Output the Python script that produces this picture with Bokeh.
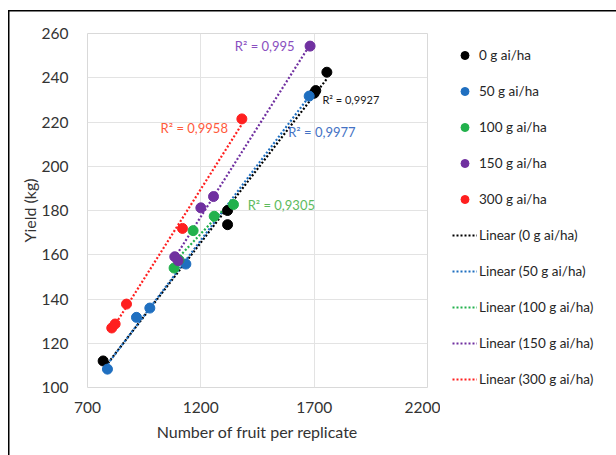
import numpy as np
from bokeh.plotting import figure
from bokeh.layouts import row
from bokeh.models import Range1d, Legend, LegendItem, FixedTicker
from bokeh.core.properties import value
from bokeh.embed import file_html
from bokeh.resources import INLINE

series_names = ["0 g ai/ha", "50 g ai/ha", "100 g ai/ha", "150 g ai/ha", "300 g ai/ha"]
colors = ["#000000", "#1F6FC0", "#22B14C", "#7030A0", "#FF1F1F"]
label_colors = ["#1a1a1a", "#4472C4", "#5DBB5D", "#8A4FC0", "#FF5A3C"]

x0 = [769, 1318, 1318, 1700, 1707, 1756]
y0 = [112, 180, 173.6, 233, 234.2, 242.5]
x50 = [788, 916, 975, 1134, 1678]
y50 = [108.3, 131.7, 135.9, 155.8, 231.7]
x100 = [1082, 1104, 1166, 1259, 1344]
y100 = [154, 157.6, 170.9, 177.4, 182.7]
x150 = [1085, 1100, 1200, 1256, 1682]
y150 = [159.1, 157.3, 181.2, 186.3, 254.3]
x300 = [807, 822, 872, 1119, 1381]
y300 = [126.9, 128.7, 137.7, 171.9, 221.4]

r2_texts = ["R² = 0,9927", "R² = 0,9977", "R² = 0,9305", "R² = 0,995", "R² = 0,9958"]
r2_x = [1862, 1734, 1555, 1482, 1171]
r2_y = [230.2, 215.7, 182.7, 254.2, 217.5]
r2_sizes = ["11px", "13px", "13px", "13px", "13px"]

xs = [x0, x50, x100, x150, x300]
ys = [y0, y50, y100, y150, y300]

x_ticks = [700, 1200, 1700, 2200]
y_ticks = [100, 120, 140, 160, 180, 200, 220, 240, 260]

FONT = "Lato"
TXT = "#333333"

p = figure(width=440, height=455, output_backend="svg", toolbar_location=None,
           x_range=Range1d(700, 2200), y_range=Range1d(100, 260),
           min_border_left=87, min_border_right=13, min_border_top=33, min_border_bottom=68)
p.background_fill_color = "white"
p.border_fill_alpha = 0
p.outline_line_color = "#D9D9D9"
p.outline_line_width = 1
p.styles = {
    "background-color": "white",
    "background-image": "linear-gradient(#000,#000), linear-gradient(#000,#000)",
    "background-size": "1.5px 100%, 100% 1.5px",
    "background-position": "8px 10px, 8px 10px",
    "background-repeat": "no-repeat",
}

for ax in (p.xaxis[0], p.yaxis[0]):
    ax.axis_line_color = None
    ax.major_tick_line_color = None
    ax.minor_tick_line_color = None
    ax.major_label_text_font = FONT
    ax.major_label_text_font_size = "15.5px"
    ax.major_label_text_color = TXT
    ax.axis_label_text_font = FONT
    ax.axis_label_text_font_size = "16px"
    ax.axis_label_text_font_style = "normal"
    ax.axis_label_text_color = TXT
p.xaxis[0].ticker = FixedTicker(ticks=x_ticks)
p.yaxis[0].ticker = FixedTicker(ticks=y_ticks)
p.xaxis[0].axis_label = "Number of fruit per replicate"
p.yaxis[0].axis_label = "Yield (kg)"
p.xaxis[0].major_label_standoff = 8
p.yaxis[0].major_label_standoff = 13
p.xaxis[0].axis_label_standoff = 6
p.yaxis[0].axis_label_standoff = 0
p.xgrid.grid_line_color = "#E3E3E3"
p.ygrid.grid_line_color = "#E3E3E3"

for name, c, xx, yy in zip(series_names, colors, xs, ys):
    xa = np.array(xx, dtype=float)
    ya = np.array(yy, dtype=float)
    m, b = np.polyfit(xa, ya, 1)
    lx = np.array([xa.min(), xa.max()])
    p.line(lx, m * lx + b, line_color=c, line_width=2.2, line_dash="2 2")

for name, c, xx, yy in zip(series_names, colors, xs, ys):
    p.scatter(xx, yy, size=10, fill_color=c, line_color=c)

for t, tx, ty, c, fs in zip(r2_texts, r2_x, r2_y, label_colors, r2_sizes):
    p.text([tx], [ty], text=[t], text_color=c, text_font=value(FONT), text_font_size=fs,
           text_align="center", text_baseline="middle")

# legend panel (frames of a row are aligned with the main plot's frame)
q = figure(width=176, height=455, output_backend="svg", toolbar_location=None,
           x_range=Range1d(0, 1), y_range=Range1d(0, 1),
           x_axis_location=None, y_axis_location=None,
           min_border=0, min_border_left=0, min_border_right=0, min_border_top=0, min_border_bottom=0)
q.outline_line_color = None
q.grid.visible = False
q.background_fill_alpha = 0
q.border_fill_alpha = 0
q.styles = {
    "background-color": "white",
    "background-image": "linear-gradient(#000,#000)",
    "background-size": "100% 1.5px",
    "background-position": "0px 10px",
    "background-repeat": "no-repeat",
}

marker_items = []
line_items = []
for name, c, xx, yy in zip(series_names, colors, xs, ys):
    # same data, far outside this panel's 0..1 ranges: only the legend glyphs show
    sr = q.scatter(xx, yy, size=7.5, fill_color=c, line_color=c)
    marker_items.append(LegendItem(label=name, renderers=[sr]))
    lr = q.line(xx, yy, line_color=c, line_width=2.2, line_dash="2 2")
    line_items.append(LegendItem(label="Linear (" + name + ")", renderers=[lr]))

legend = Legend(items=marker_items + line_items, location=(12, -2),
                orientation="vertical", padding=0, margin=0, spacing=16,
                glyph_width=25, glyph_height=20, label_height=20, label_standoff=2,
                label_text_font=FONT, label_text_font_size="13.5px", label_text_color="#262626",
                border_line_alpha=0, background_fill_alpha=0)
q.add_layout(legend, "center")

layout = row(p, q, spacing=0)
open("out.html", "w").write(file_html(layout, INLINE))
